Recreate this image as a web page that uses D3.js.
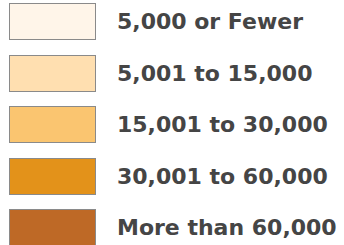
<!DOCTYPE html>
<html>
<head>
<meta charset="utf-8">
<script src="https://cdn.jsdelivr.net/npm/d3@7"></script>
<style>
  body { margin: 0; background: #fff; }
</style>
</head>
<body>
<div id="legend"></div>
<script>
// legend classes
const labels = ["5,000 or Fewer", "5,001 to 15,000", "15,001 to 30,000", "30,001 to 60,000", "More than 60,000"];
const colors = ["#fff5e9", "#ffdfb0", "#fac570", "#e3921a", "#be6926"];

const width = 344, height = 245;
const boxH = 36, rowStep = 51.5;

var svg = d3.select("#legend").append("svg").attr("width", width).attr("height", height);

var y = d3.scaleBand().domain(labels)
    .range([3, 3 + rowStep * (labels.length - 1) + boxH])
    .paddingInner((rowStep - boxH) / rowStep).paddingOuter(0);
var color = d3.scaleOrdinal().domain(labels).range(colors);

var rows = svg.selectAll("g.row").data(labels).enter().append("g").attr("class", "row");

rows.append("rect")
    .attr("x", 9.5)
    .attr("y", function (d) { return Math.round(y(d)) + 0.5; })
    .attr("width", 86)
    .attr("height", y.bandwidth())
    .attr("fill", function (d) { return color(d); })
    .attr("stroke", "#8a8a8a")
    .attr("stroke-width", 1);

rows.append("text")
    .attr("x", 117)
    .attr("y", function (d) { return Math.round(y(d)) + boxH / 2 + 8; })
    .attr("font-family", "Verdana, 'DejaVu Sans', sans-serif")
    .attr("font-weight", "bold")
    .attr("font-size", 22)
    .attr("fill", "#454545")
    .text(function (d) { return d; });
</script>
</body>
</html>
